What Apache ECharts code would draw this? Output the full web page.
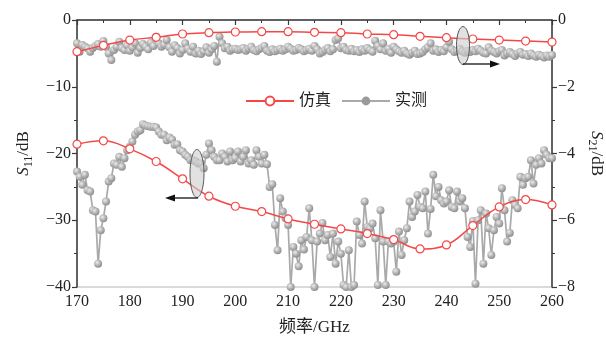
<!DOCTYPE html>
<html>
<head>
<meta charset="utf-8">
<script src="https://cdn.jsdelivr.net/npm/echarts@6/dist/echarts.min.js"></script>
<style>
  html, body { margin: 0; padding: 0; background: #fff; }
  #chart { width: 606px; height: 342px; }
</style>
</head>
<body>
<div id="chart"></div>
<script>
// Frequency grid (GHz)
const simFreq = [170, 175, 180, 185, 190, 195, 200, 205, 210, 215, 220, 225, 230, 235, 240, 245, 250, 255, 260];
const measStart = 170;
const measStep = 0.5;

// Simulated S11 (dB), left axis
const s11Sim = [-18.6, -18.1, -19.3, -21.2, -23.8, -26.4, -27.9, -28.7, -29.8, -30.6, -31.3, -32.0, -32.9, -34.3, -33.7, -30.8, -28.0, -26.9, -27.7];

// Simulated S21 (dB), right axis
const s21Sim = [-0.95, -0.76, -0.60, -0.52, -0.42, -0.38, -0.36, -0.35, -0.35, -0.37, -0.38, -0.42, -0.44, -0.49, -0.53, -0.57, -0.60, -0.63, -0.66];

// Measured S11 (dB), 0.5 GHz steps from 170 GHz
const s11Meas = [
  -22.7, -23.5, -24.7, -23.2, -25.5, -25.7, -28.5, -28.7, -36.5, -31.5,
  -29.7, -27.2, -24.2, -23.7, -21.5, -21.7, -20.5, -22.0, -20.7, -19.5,
  -19.0, -18.2, -17.2, -16.7, -16.5, -15.6, -15.8, -15.9, -16.0, -16.0,
  -16.1, -16.7, -17.2, -17.2, -18.0, -17.6, -17.9, -18.7, -18.6, -19.5,
  -19.7, -20.2, -20.5, -21.0, -21.0, -21.2, -21.5, -21.5, -22.2, -20.2,
  -18.5, -19.5, -20.5, -21.0, -21.0, -20.0, -20.5, -21.2, -19.7, -21.0,
  -20.7, -19.7, -21.2, -20.5, -19.5, -21.5, -21.0, -21.7, -19.5, -20.5,
  -21.5, -20.2, -21.6, -25.0, -24.6, -30.7, -34.5, -26.7, -28.7, -29.7,
  -30.7, -40.0, -34.0, -35.0, -36.9, -33.0, -34.4, -32.5, -28.2, -33.0,
  -40.0, -33.2, -32.0, -30.4, -33.0, -32.2, -35.5, -32.0, -36.5, -33.2,
  -35.0, -39.7, -40.0, -34.5, -40.0, -39.7, -30.2, -32.2, -33.5, -27.2,
  -31.0, -31.2, -30.5, -32.7, -39.7, -28.5, -33.2, -39.7, -33.2, -33.5,
  -33.2, -37.7, -31.7, -35.2, -33.0, -31.2, -27.2, -29.5, -28.7, -26.2,
  -28.0, -28.2, -25.7, -32.0, -28.3, -23.2, -26.4, -25.0, -27.0, -27.5,
  -27.2, -25.5, -28.0, -28.2, -25.7, -27.2, -26.7, -28.2, -32.5, -34.0,
  -30.1, -39.5, -30.0, -28.5, -36.5, -29.0, -31.2, -35.2, -31.5, -29.5,
  -30.5, -25.2, -28.5, -33.2, -31.9, -27.0, -27.7, -28.2, -23.5, -24.7,
  -23.7, -23.5, -21.0, -24.5, -21.7, -20.7, -21.5, -19.5, -20.2, -20.7,
  -20.7
];

// Measured S21 (dB), 0.5 GHz steps from 170 GHz
const s21Meas = [
  -0.70, -0.95, -0.75, -0.80, -0.85, -0.95, -0.84, -0.78, -0.72, -0.80,
  -0.63, -0.80, -1.00, -1.20, -0.90, -0.80, -0.65, -0.84, -0.90, -0.76,
  -0.92, -0.82, -0.70, -0.98, -0.84, -0.72, -0.80, -0.88, -0.68, -0.78,
  -0.50, -0.70, -0.80, -0.74, -0.60, -0.82, -0.95, -0.76, -0.84, -1.00,
  -0.90, -0.70, -0.86, -0.95, -0.80, -1.00, -0.92, -1.02, -0.94, -0.82,
  -0.98, -0.88, -0.78, -1.25, -0.50, -0.70, -0.85, -0.80, -0.92, -0.88,
  -0.86, -0.90, -0.88, -0.84, -0.92, -0.86, -0.80, -0.90, -0.94, -0.88,
  -0.84, -0.78, -0.92, -0.96, -0.88, -0.94, -0.90, -0.86, -0.92, -0.88,
  -0.80, -0.86, -0.92, -0.90, -0.84, -0.88, -0.94, -0.90, -0.86, -0.92,
  -0.78, -0.88, -1.00, -0.96, -0.90, -0.84, -0.94, -0.88, -0.60, -0.55,
  -0.85, -0.80, -0.90, -0.92, -0.86, -0.94, -0.90, -0.96, -0.88, -0.92,
  -0.84, -0.90, -0.95, -0.62, -0.78, -0.88, -0.70, -0.92, -0.86, -0.98,
  -0.80, -0.88, -0.94, -0.98, -0.92, -1.00, -1.04, -0.98, -0.92, -1.02,
  -1.00, -0.96, -0.88, -0.82, -0.70, -0.92, -0.88, -0.96, -0.90, -0.94,
  -0.82, -0.65, -0.88, -0.96, -0.92, -0.86, -0.94, -0.98, -0.92, -0.96,
  -0.90, -0.94, -0.86, -0.92, -0.98, -1.00, -0.82, -0.92, -0.96, -1.00,
  -0.94, -0.90, -1.06, -1.00, -0.96, -1.02, -1.08, -1.00, -0.96, -1.04,
  -1.02, -1.08, -1.00, -1.06, -1.10, -1.04, -1.08, -1.12, -1.06, -1.10,
  -1.05
];

// Axis ticks
const xTicks = { min: 170, max: 260, interval: 10 };
const s11Ticks = { min: -40, max: 0, interval: 10 };
const s21Ticks = { min: -8, max: 0, interval: 2 };

const serif = 'Liberation Serif, "Times New Roman", "Noto Sans CJK SC", serif';
const simRed = '#f44848';
const measGray = '#a9a9a9';
const axisDark = '#3a3a3a';

const pairsSim = vals => vals.map((v, i) => [simFreq[i], v]);
const pairsMeas = vals => vals.map((v, i) => [measStart + i * measStep, v]);

const minusFmt = v => String(v).replace('-', '\u2212');

const ball = {
  type: 'radial', x: 0.38, y: 0.35, r: 0.7,
  colorStops: [
    { offset: 0, color: '#ececec' },
    { offset: 0.55, color: '#b0b0b0' },
    { offset: 1, color: '#8a8a8a' }
  ]
};

const simSeries = (vals, yIdx) => ({
  name: '仿真', type: 'line', yAxisIndex: yIdx, data: pairsSim(vals),
  smooth: 0.4, symbol: 'circle', symbolSize: 8, showAllSymbol: true,
  lineStyle: { color: simRed, width: 1.5 },
  itemStyle: { color: '#fff', borderColor: simRed, borderWidth: 1.2 },
  z: 3
});

const measSeries = (vals, yIdx) => ({
  name: '实测', type: 'line', yAxisIndex: yIdx, data: pairsMeas(vals),
  symbol: 'circle', symbolSize: 8, showAllSymbol: true,
  lineStyle: { color: measGray, width: 1.7 },
  itemStyle: { color: ball, borderWidth: 0 },
  z: 2
});

const axisName = (num) => '{i|S}{s|' + num + '}{n|/dB}';
const nameRich = {
  i: { fontFamily: serif, fontStyle: 'italic', fontSize: 17, color: '#222', lineHeight: 22, verticalAlign: 'middle' },
  s: { fontFamily: serif, fontSize: 12, color: '#222', lineHeight: 12, verticalAlign: 'bottom', padding: [9, 0, 0, 0] },
  n: { fontFamily: serif, fontSize: 17, color: '#222', lineHeight: 22, verticalAlign: 'middle' }
};

const chart = echarts.init(document.getElementById('chart'), null, { renderer: 'canvas' });

chart.setOption({
  animation: false,
  backgroundColor: '#fff',
  grid: {
    left: 77, right: 54, top: 20, bottom: 55,
    containLabel: false, outerBoundsMode: 'none',
    show: true, borderColor: '#b5b5b5', borderWidth: 1
  },
  legend: {
    data: [
      { name: '仿真' },
      { name: '实测', itemStyle: { color: '#9a9a9a' } }
    ],
    left: 240, top: 88,
    itemWidth: 48, itemHeight: 11, itemGap: 10,
    textStyle: { fontFamily: serif, fontSize: 16, color: '#222' }
  },
  xAxis: {
    type: 'value', min: xTicks.min, max: xTicks.max, interval: xTicks.interval,
    name: '频率/GHz', nameLocation: 'middle', nameGap: 32,
    nameTextStyle: { fontFamily: serif, fontSize: 17, color: '#222' },
    axisLine: { show: true, lineStyle: { color: axisDark, width: 1.5 } },
    axisTick: { show: true, length: 5, inside: false, lineStyle: { color: axisDark, width: 1.2 } },
    minorTick: { show: true, splitNumber: 2, length: 3, lineStyle: { color: axisDark, width: 1 } },
    axisLabel: { fontFamily: serif, fontSize: 16, color: '#222', margin: 7 },
    splitLine: { show: false }
  },
  yAxis: [
    {
      type: 'value', position: 'left', min: s11Ticks.min, max: s11Ticks.max, interval: s11Ticks.interval,
      name: axisName('11'), nameLocation: 'middle', nameGap: 42, nameRotate: 90,
      nameTextStyle: { rich: nameRich },
      axisLine: { show: true, lineStyle: { color: axisDark, width: 1.5 } },
      axisTick: { show: true, length: 5, lineStyle: { color: axisDark, width: 1.2 } },
      minorTick: { show: true, splitNumber: 2, length: 3, lineStyle: { color: axisDark, width: 1 } },
      axisLabel: { fontFamily: serif, fontSize: 16, color: '#222', margin: 6, formatter: minusFmt },
      splitLine: { show: false }
    },
    {
      type: 'value', position: 'right', min: s21Ticks.min, max: s21Ticks.max, interval: s21Ticks.interval,
      name: axisName('21'), nameLocation: 'middle', nameGap: 33, nameRotate: -90,
      nameTextStyle: { rich: nameRich },
      axisLine: { show: true, lineStyle: { color: axisDark, width: 1.5 } },
      axisTick: { show: true, length: 5, lineStyle: { color: axisDark, width: 1.2 } },
      minorTick: { show: true, splitNumber: 2, length: 3, lineStyle: { color: axisDark, width: 1 } },
      axisLabel: { fontFamily: serif, fontSize: 16, color: '#222', margin: 6, formatter: minusFmt },
      splitLine: { show: false }
    }
  ],
  series: [
    measSeries(s11Meas, 0),
    measSeries(s21Meas, 1),
    simSeries(s11Sim, 0),
    simSeries(s21Sim, 1)
  ]
});

// Ellipse markers with arrows pointing to the axis each curve group belongs to
function arrowGroup(cx, cy, rx, ry, x0, x1, y) {
  const dir = Math.sign(x1 - x0);
  return [
    { type: 'ellipse', shape: { cx, cy, rx, ry }, z: 10,
      style: { fill: 'rgba(205,205,205,0.6)', stroke: '#555', lineWidth: 1 } },
    { type: 'line', shape: { x1: x0, y1: y, x2: x1 - dir * 8, y2: y }, z: 10,
      style: { stroke: '#111', lineWidth: 1.3 } },
    { type: 'polygon', shape: { points: [[x1, y], [x1 - dir * 10, y - 3.5], [x1 - dir * 10, y + 3.5]] }, z: 10,
      style: { fill: '#111' } }
  ];
}

chart.setOption({
  graphic: [
    ...arrowGroup(197, 173.5, 7, 24, 198, 165, 198),
    ...arrowGroup(463, 45.5, 6.5, 19, 463, 500, 64)
  ]
});
</script>
</body>
</html>
